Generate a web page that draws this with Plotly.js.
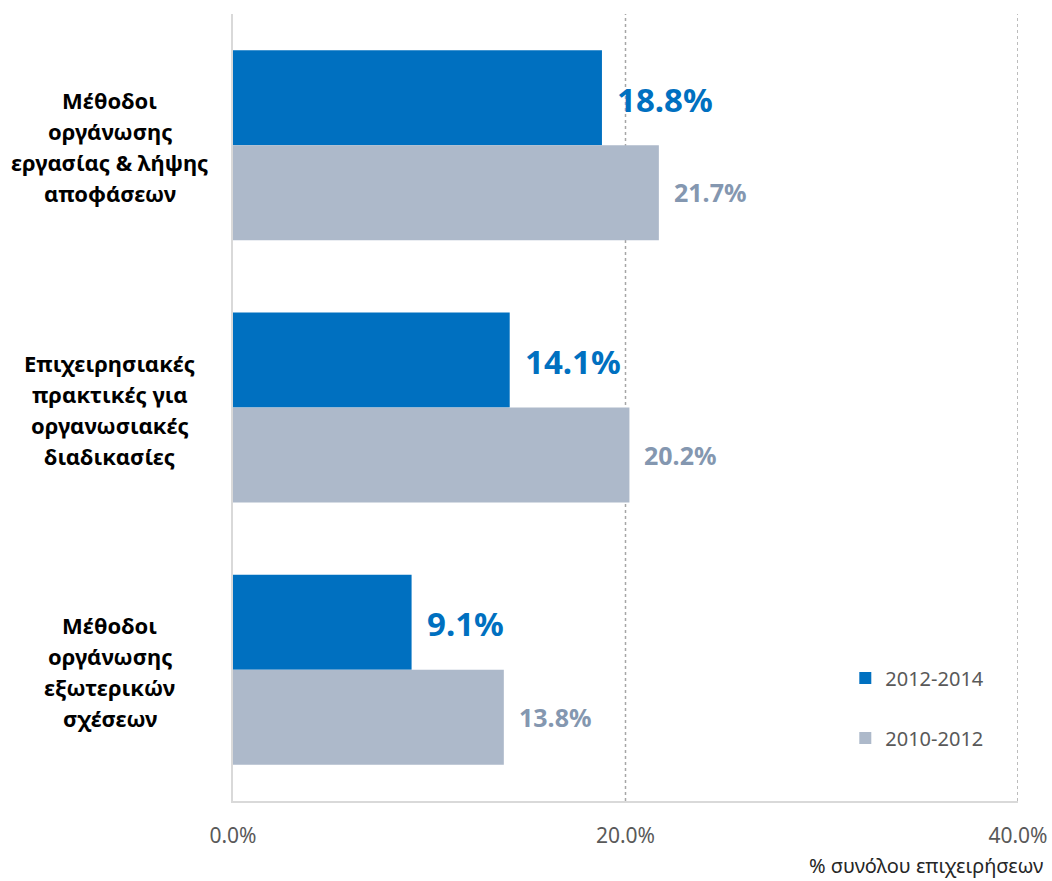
<!DOCTYPE html>
<html>
<head>
<meta charset="utf-8">
<script src="https://cdn.plot.ly/plotly-3.0.1.min.js"></script>
<style>html,body{margin:0;padding:0;background:#fff;}#chart{width:1052px;height:881px;}</style>
</head>
<body>
<div id="chart"></div>
<script>
const categories = [
  "Μέθοδοι<br>οργάνωσης<br>εργασίας & λήψης<br>αποφάσεων",
  "Επιχειρησιακές<br>πρακτικές για<br>οργανωσιακές<br>διαδικασίες",
  "Μέθοδοι<br>οργάνωσης<br>εξωτερικών<br>σχέσεων"
];
const seriesNames = ["2012-2014", "2010-2012"];
const values2014 = [18.8, 14.1, 9.1];
const values2012 = [21.7, 20.2, 13.8];
const tickValues = [0, 20, 40];
const xAxisTitle = "% συνόλου επιχειρήσεων";

const FONT = "Noto Sans, Open Sans, sans-serif";
const BLUE = "#0070C0";
const GRAY = "#ADB9CA";

const traces = [
  {type: "bar", orientation: "h", name: seriesNames[0], y: categories, x: values2014,
   marker: {color: BLUE}, legend: "legend", hoverinfo: "x+name"},
  {type: "bar", orientation: "h", name: seriesNames[1], y: categories, x: values2012,
   marker: {color: GRAY}, legend: "legend2", hoverinfo: "x+name"}
];

const annotations = [];
categories.forEach((cat, i) => {
  annotations.push({x: values2014[i], y: cat, xref: "x", yref: "y", xanchor: "left", yanchor: "middle",
    xshift: 13, yshift: 46, showarrow: false, text: values2014[i].toFixed(1) + "%",
    font: {family: FONT, size: 33, color: BLUE, weight: "bold"}});
  annotations.push({x: values2012[i], y: cat, xref: "x", yref: "y", xanchor: "left", yanchor: "middle",
    xshift: 13, yshift: -47, showarrow: false, text: values2012[i].toFixed(1) + "%",
    font: {family: FONT, size: 25, color: "#8497B0", weight: "bold"}});
  const lines = cat.split("<br>");
  lines.forEach((ln, j) => {
    annotations.push({x: -0.157, y: cat, xref: "paper", yref: "y", xanchor: "center", yanchor: "middle",
      yshift: ((lines.length - 1) / 2 - j) * 31 - 1.5, showarrow: false, text: ln,
      font: {family: FONT, size: 22, color: "#000000", weight: "bold"}});
  });
});
annotations.push({x: 1.034, y: -0.082, xref: "paper", yref: "paper", xanchor: "right", yanchor: "middle",
  showarrow: false, text: xAxisTitle, font: {family: FONT, size: 20, color: "#262626"}});

// dotted vertical gridlines at the non-zero ticks (including the one on the right edge)
const shapes = tickValues.filter(v => v > 0).map(v => ({
  type: "line", xref: "x", yref: "paper", x0: v, x1: v, y0: 0, y1: 1, layer: "below",
  line: {color: "#A6A6A6", width: 1.5, dash: "dot"}
}));

const layout = {
  width: 1052, height: 881,
  margin: {l: 233, r: 34, t: 14, b: 80},
  paper_bgcolor: "#ffffff", plot_bgcolor: "#ffffff",
  barmode: "group", bargap: 0.276, bargroupgap: 0,
  font: {family: FONT, color: "#595959"},
  xaxis: {
    range: [0, 40], tickvals: tickValues, ticktext: tickValues.map(v => v.toFixed(1) + "%"),
    showgrid: false,
    zeroline: false, showline: true, linecolor: "#D9D9D9", linewidth: 1.5,
    ticks: "", ticklabelstandoff: 15,
    tickfont: {family: FONT, size: 21, color: "#595959"}, fixedrange: true
  },
  yaxis: {
    autorange: "reversed", showticklabels: false, ticks: "", showgrid: false,
    zeroline: false, showline: true, linecolor: "#D9D9D9", linewidth: 1.5, fixedrange: true
  },
  showlegend: true,
  legend: {x: 0.78, y: 0.1563, xanchor: "left", yanchor: "middle", bgcolor: "rgba(0,0,0,0)",
    font: {family: FONT, size: 20, color: "#595959"}},
  legend2: {x: 0.78, y: 0.080, xanchor: "left", yanchor: "middle", bgcolor: "rgba(0,0,0,0)",
    font: {family: FONT, size: 20, color: "#595959"}},
  shapes: shapes,
  annotations: annotations
};

Plotly.newPlot("chart", traces, layout, {displayModeBar: false, responsive: false});
</script>
</body>
</html>
